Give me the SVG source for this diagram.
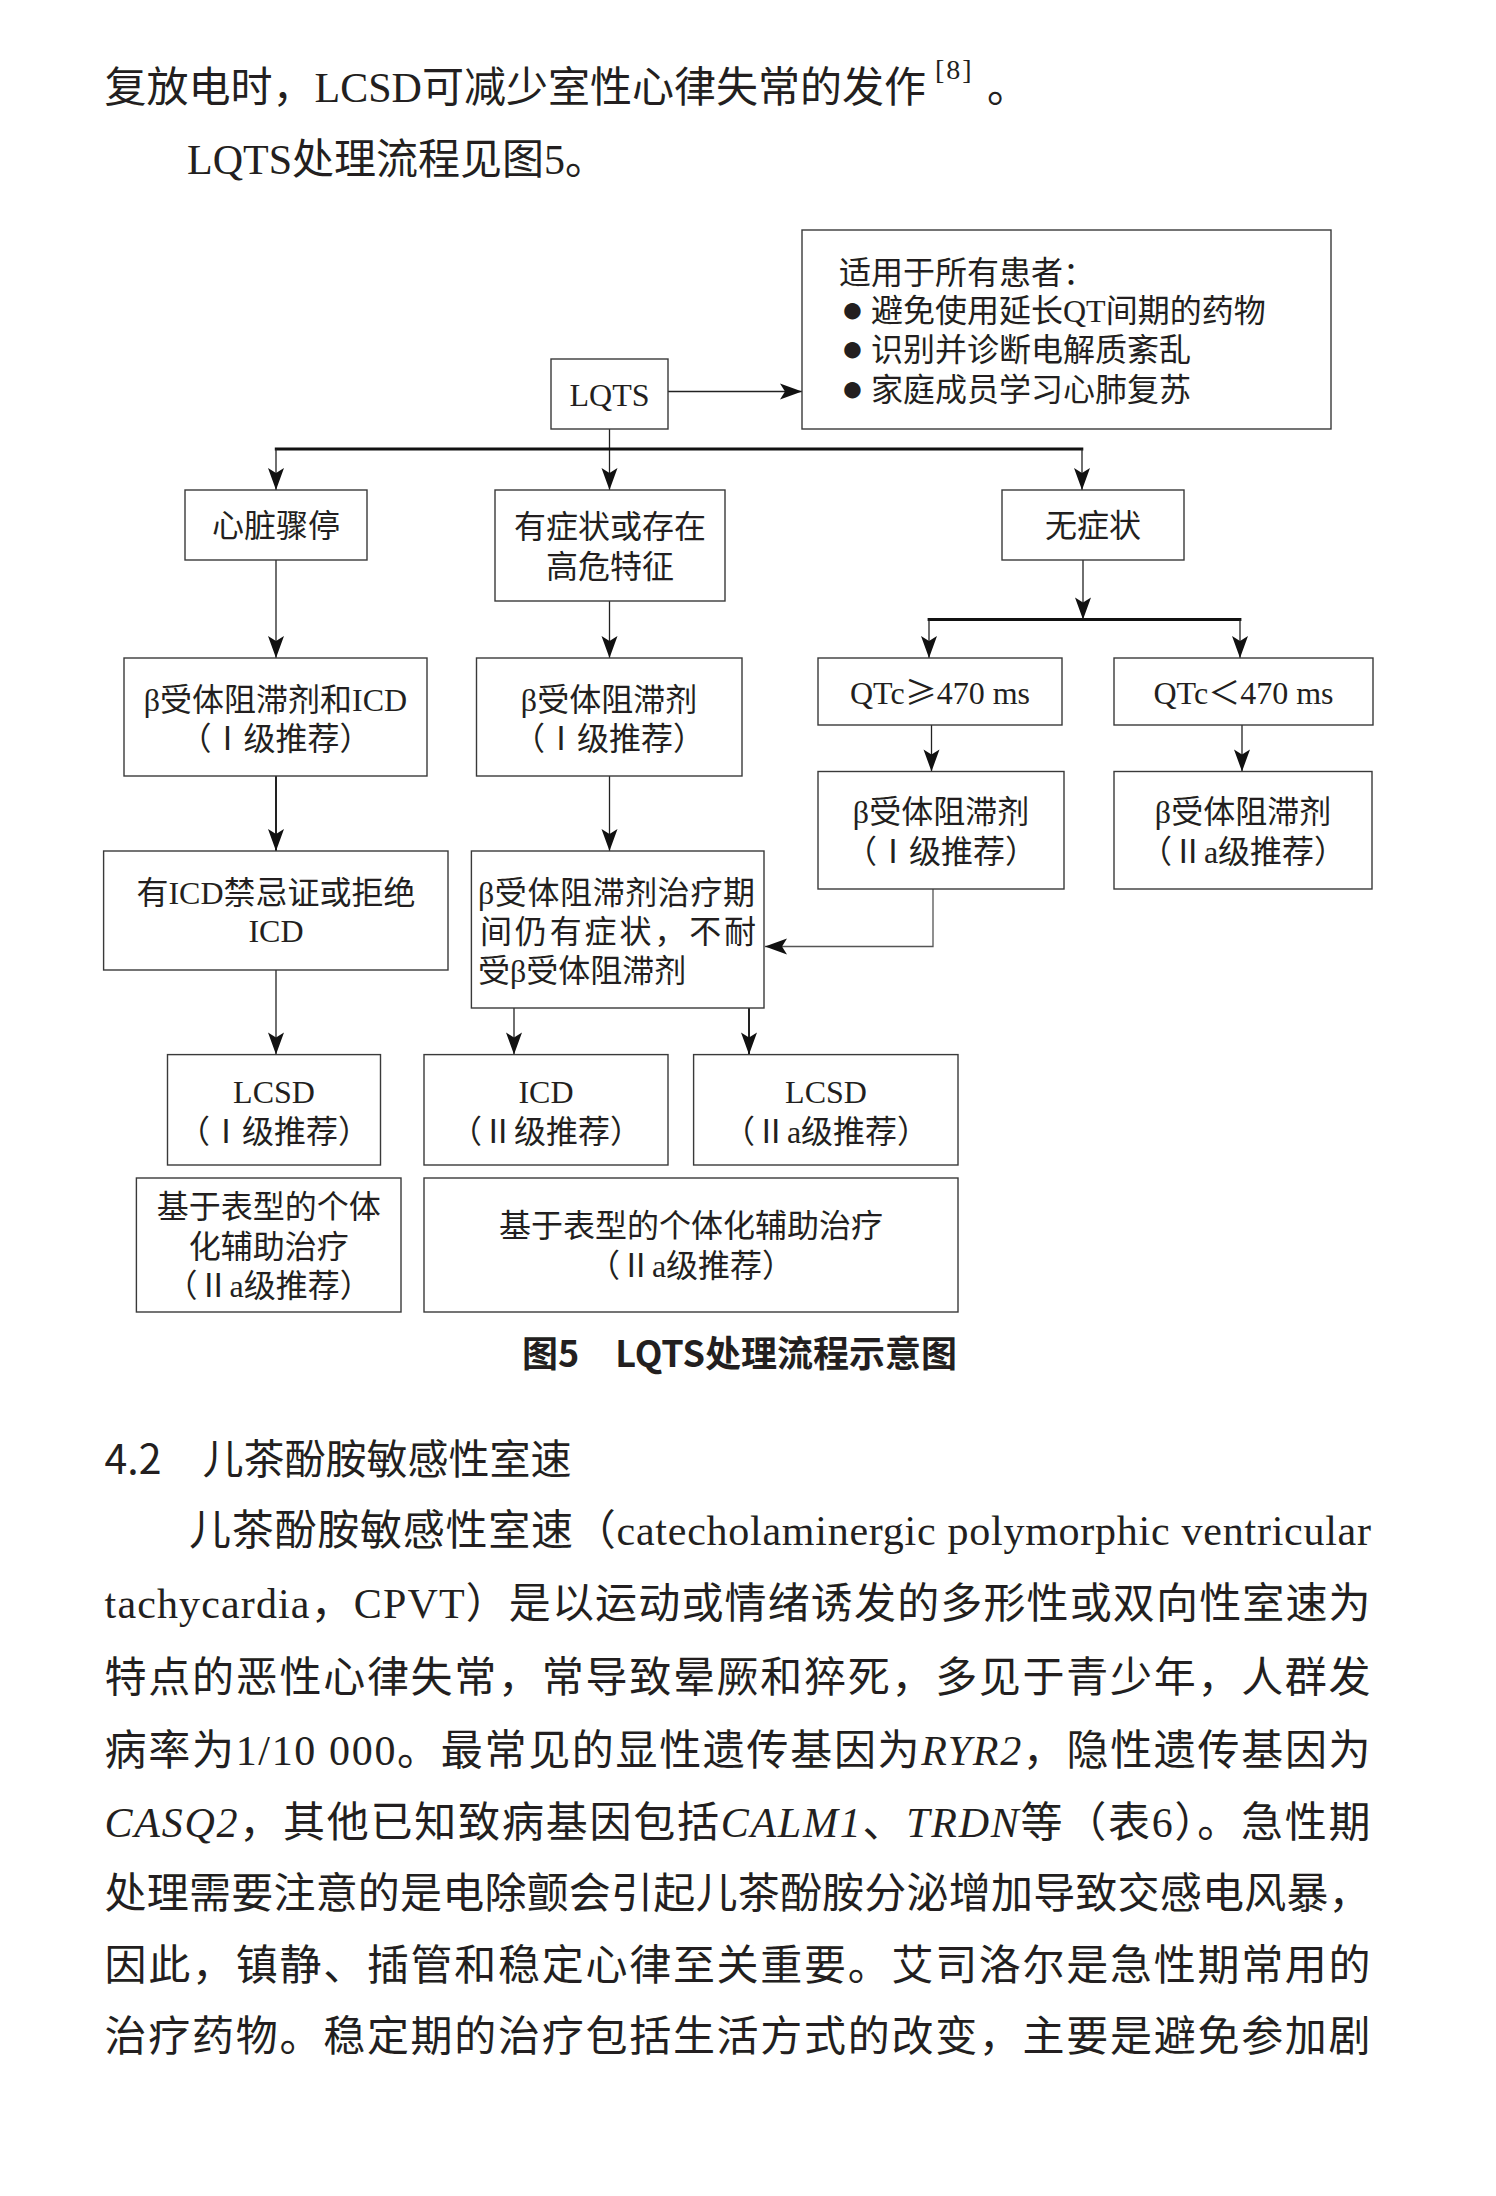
<svg xmlns="http://www.w3.org/2000/svg" width="1496" height="2196" viewBox="0 0 1496 2196">
<style>
.bx{fill:#fff;stroke:#3a3a3a;stroke-width:1.4}
.t{font-family:'Liberation Serif','Noto Sans CJK SC',serif;font-size:32px;fill:#231f20}
.c{text-anchor:middle}
.cjk{font-family:'Noto Sans CJK SC',sans-serif}
.bul{font-size:38px}
.body{font-family:'Liberation Serif','Noto Sans CJK SC',serif;font-size:42px;fill:#231f20}
.it{font-style:italic}
.ln{stroke:#222;stroke-width:1.3;fill:none}
.md{stroke-width:2}
.thk{stroke-width:2.8;stroke:#111}
.cap{font-family:'Noto Sans CJK SC',sans-serif;font-size:36px;font-weight:bold;fill:#231f20}
.hd{font-family:'Noto Sans CJK SC',sans-serif;font-size:41px;fill:#231f20}
</style>
<defs>
<marker id="ah" markerUnits="userSpaceOnUse" markerWidth="24" markerHeight="18" viewBox="-23 -9 24 18" refX="0" refY="0" orient="auto">
<path d="M0,0 L-22,-8 L-17,0 L-22,8 Z" fill="#111"/>
</marker>
</defs>
<rect width="1496" height="2196" fill="#fff"/>

<g id="body-top">
<text class="body" x="104.6" y="102">复放电时，LCSD可减少室性心律失常的发作</text>
<text x="935" y="79" style="font-family:'Liberation Serif',serif;font-size:28px;fill:#231f20;letter-spacing:2px">[8]</text>
<text class="body" x="987" y="102">。</text>
<text class="body" x="187" y="174">LQTS处理流程见图5。</text>
</g>

<g id="connectors">
<path class="ln" d="M668,391.5 H802" marker-end="url(#ah)"/>
<path class="ln" d="M609.5,429 V490" marker-end="url(#ah)"/>
<path class="ln thk" d="M274.8,449 H1083.3"/>
<path class="ln" d="M276,449 V490" marker-end="url(#ah)"/>
<path class="ln" d="M1082,449 V490" marker-end="url(#ah)"/>
<path class="ln" d="M276,560 V658" marker-end="url(#ah)"/>
<path class="ln" d="M609.5,601 V658" marker-end="url(#ah)"/>
<path class="ln" d="M1083,560 V619.5" marker-end="url(#ah)"/>
<path class="ln thk" d="M927.6,619.5 H1241.4"/>
<path class="ln" d="M929,619.5 V658" marker-end="url(#ah)"/>
<path class="ln" d="M1240,619.5 V658" marker-end="url(#ah)"/>
<path class="ln md" d="M276,776 V851" marker-end="url(#ah)"/>
<path class="ln" d="M609.5,776 V851" marker-end="url(#ah)"/>
<path class="ln" d="M931.5,725 V771.5" marker-end="url(#ah)"/>
<path class="ln" d="M1242,725 V771.5" marker-end="url(#ah)"/>
<path class="ln" style="stroke:#555" d="M933,889 V946.5 H765" marker-end="url(#ah)"/>
<path class="ln" d="M276,970 V1054.6" marker-end="url(#ah)"/>
<path class="ln" d="M514,1008 V1054.6" marker-end="url(#ah)"/>
<path class="ln md" d="M749,1008 V1054.6" marker-end="url(#ah)"/>
</g>

<g id="n-lqts">
<rect class="bx" x="551" y="359" width="117" height="70"/>
<text class="t c" x="609.5" y="406">LQTS</text>
</g>
<g id="n-all">
<rect class="bx" x="802" y="230" width="529" height="199"/>
<text class="t" x="839" y="283.5">适用于所有患者：</text>
<text class="t" x="841" y="322"><tspan class="bul">●</tspan><tspan x="871">避免使用延长QT间期的药物</tspan></text>
<text class="t" x="841" y="361"><tspan class="bul">●</tspan><tspan x="871">识别并诊断电解质紊乱</tspan></text>
<text class="t" x="841" y="401"><tspan class="bul">●</tspan><tspan x="871">家庭成员学习心肺复苏</tspan></text>
</g>
<g id="n-arrest">
<rect class="bx" x="185" y="490" width="182" height="70"/>
<text class="t c" x="276" y="537">心脏骤停</text>
</g>
<g id="n-symp">
<rect class="bx" x="495" y="490" width="230" height="111"/>
<text class="t c" x="610" y="538">有症状或存在</text>
<text class="t c" x="610" y="578">高危特征</text>
</g>
<g id="n-asymp">
<rect class="bx" x="1002" y="490" width="182" height="70"/>
<text class="t c" x="1093" y="537">无症状</text>
</g>
<g id="n-bb-icd">
<rect class="bx" x="124" y="658" width="303" height="118"/>
<text class="t c" x="275.5" y="711">β受体阻滞剂和ICD</text>
<text class="t c" x="275.5" y="750">（Ⅰ级推荐）</text>
</g>
<g id="n-bb1">
<rect class="bx" x="476.5" y="658" width="265.5" height="118"/>
<text class="t c" x="609" y="711">β受体阻滞剂</text>
<text class="t c" x="609" y="750">（Ⅰ级推荐）</text>
</g>
<g id="n-qtc-hi">
<rect class="bx" x="818" y="658" width="244" height="67"/>
<text class="t c" x="940" y="704">QTc<tspan class="cjk">≥</tspan>470 ms</text>
</g>
<g id="n-qtc-lo">
<rect class="bx" x="1114" y="658" width="259" height="67"/>
<text class="t c" x="1243.5" y="704">QTc＜470 ms</text>
</g>
<g id="n-bb2">
<rect class="bx" x="818" y="771.5" width="246" height="117.5"/>
<text class="t c" x="941" y="823">β受体阻滞剂</text>
<text class="t c" x="941" y="863">（Ⅰ级推荐）</text>
</g>
<g id="n-bb3">
<rect class="bx" x="1114" y="771.5" width="258" height="117.5"/>
<text class="t c" x="1243" y="823">β受体阻滞剂</text>
<text class="t c" x="1243" y="863">（Ⅱa级推荐）</text>
</g>
<g id="n-icd-contra">
<rect class="bx" x="103.6" y="851" width="344.4" height="119"/>
<text class="t c" x="276" y="904">有ICD禁忌证或拒绝</text>
<text class="t c" x="276" y="942">ICD</text>
</g>
<g id="n-refractory">
<rect class="bx" x="471.4" y="851" width="292.6" height="157"/>
<text class="t" x="478" y="904" textLength="277" lengthAdjust="spacing">β受体阻滞剂治疗期</text>
<text class="t" x="480" y="943" textLength="276" lengthAdjust="spacing">间仍有症状，不耐</text>
<text class="t" x="478" y="982">受β受体阻滞剂</text>
</g>
<g id="n-lcsd1">
<rect class="bx" x="167.5" y="1054.6" width="213" height="110.4"/>
<text class="t c" x="274" y="1102.5">LCSD</text>
<text class="t c" x="274" y="1142.5">（Ⅰ级推荐）</text>
</g>
<g id="n-icd2">
<rect class="bx" x="424" y="1054.6" width="244" height="110.4"/>
<text class="t c" x="546" y="1102.5">ICD</text>
<text class="t c" x="546" y="1142.5">（Ⅱ级推荐）</text>
</g>
<g id="n-lcsd2">
<rect class="bx" x="693.6" y="1054.6" width="264.4" height="110.4"/>
<text class="t c" x="826" y="1102.5">LCSD</text>
<text class="t c" x="826" y="1142.5">（Ⅱa级推荐）</text>
</g>
<g id="n-pheno1">
<rect class="bx" x="136.4" y="1178" width="264.6" height="134"/>
<text class="t c" x="268.7" y="1218">基于表型的个体</text>
<text class="t c" x="268.7" y="1258">化辅助治疗</text>
<text class="t c" x="268.7" y="1297">（Ⅱa级推荐）</text>
</g>
<g id="n-pheno2">
<rect class="bx" x="424" y="1178" width="534" height="134"/>
<text class="t c" x="691" y="1237">基于表型的个体化辅助治疗</text>
<text class="t c" x="691" y="1277">（Ⅱa级推荐）</text>
</g>

<g id="caption">
<text class="cap" x="522" y="1367">图5　LQTS处理流程示意图</text>
</g>

<g id="body-bottom">
<text class="hd" x="104.6" y="1474">4.2　儿茶酚胺敏感性室速</text>
<text class="body" x="189" y="1545" textLength="1182" lengthAdjust="spacing">儿茶酚胺敏感性室速（catecholaminergic polymorphic ventricular</text>
<text class="body" x="104.6" y="1618" textLength="1266" lengthAdjust="spacing">tachycardia，CPVT）是以运动或情绪诱发的多形性或双向性室速为</text>
<text class="body" x="104.6" y="1692" textLength="1266" lengthAdjust="spacing">特点的恶性心律失常，常导致晕厥和猝死，多见于青少年，人群发</text>
<text class="body" x="104.6" y="1765" textLength="1266" lengthAdjust="spacing">病率为1/10 000。最常见的显性遗传基因为<tspan class="it">RYR2</tspan>，隐性遗传基因为</text>
<text class="body" x="104.6" y="1837" textLength="1266" lengthAdjust="spacing"><tspan class="it">CASQ2</tspan>，其他已知致病基因包括<tspan class="it">CALM1</tspan>、<tspan class="it">TRDN</tspan>等（表6）。急性期</text>
<text class="body" x="104.6" y="1908" textLength="1266" lengthAdjust="spacing">处理需要注意的是电除颤会引起儿茶酚胺分泌增加导致交感电风暴，</text>
<text class="body" x="104.6" y="1980" textLength="1266" lengthAdjust="spacing">因此，镇静、插管和稳定心律至关重要。艾司洛尔是急性期常用的</text>
<text class="body" x="104.6" y="2051" textLength="1266" lengthAdjust="spacing">治疗药物。稳定期的治疗包括生活方式的改变，主要是避免参加剧</text>
</g>
</svg>
